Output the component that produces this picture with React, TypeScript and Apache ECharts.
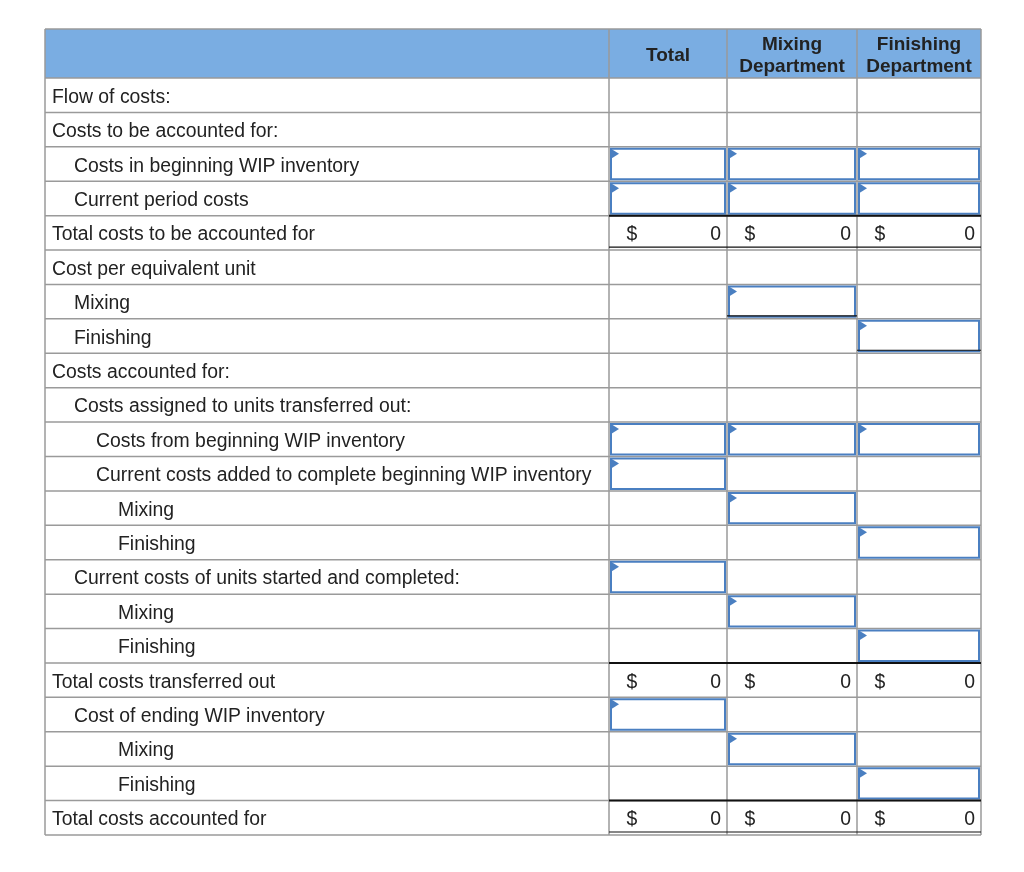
import React, { useEffect, useRef } from "react";
import * as echarts from "echarts";

const headers = ["", "Total", "Mixing\nDepartment", "Finishing\nDepartment"];
const rowLabels = [
  "Flow of costs:",
  "Costs to be accounted for:",
  "Costs in beginning WIP inventory",
  "Current period costs",
  "Total costs to be accounted for",
  "Cost per equivalent unit",
  "Mixing",
  "Finishing",
  "Costs accounted for:",
  "Costs assigned to units transferred out:",
  "Costs from beginning WIP inventory",
  "Current costs added to complete beginning WIP inventory",
  "Mixing",
  "Finishing",
  "Current costs of units started and completed:",
  "Mixing",
  "Finishing",
  "Total costs transferred out",
  "Cost of ending WIP inventory",
  "Mixing",
  "Finishing",
  "Total costs accounted for",
];
const rowIndent = [0, 0, 1, 1, 0, 0, 1, 1, 0, 1, 2, 2, 3, 3, 1, 3, 3, 0, 1, 3, 3, 0];
// input cells per row: [Total, Mixing, Finishing]
const inputCells = [
  [0, 0, 0], [0, 0, 0], [1, 1, 1], [1, 1, 1], [0, 0, 0], [0, 0, 0], [0, 1, 0], [0, 0, 1],
  [0, 0, 0], [0, 0, 0], [1, 1, 1], [1, 0, 0], [0, 1, 0], [0, 0, 1], [1, 0, 0], [0, 1, 0],
  [0, 0, 1], [0, 0, 0], [1, 0, 0], [0, 1, 0], [0, 0, 1], [0, 0, 0],
];
const totalRows = [4, 17, 21];
const totalValues = [
  [0, 0, 0],
  [0, 0, 0],
  [0, 0, 0],
];
const doubleUnderTotals = [4, 21];
const doubleUnderInputs = [
  [6, 1],
  [7, 2],
];

export default function App() {
  const ref = useRef<HTMLDivElement>(null);
  useEffect(() => {
    if (!ref.current) return;
    const chart = echarts.init(ref.current, undefined, { renderer: "svg" });
    const colX = [45, 609, 727, 857, 981];
    const headTop = 29;
    const headBottom = 78;
    const rowH = (835 - 78) / rowLabels.length;
    const rowY = (i: number) => headBottom + i * rowH;
    const font = "'Liberation Sans', Arial, Helvetica, sans-serif";
    const fs = 19.4;
    const hfs = 19;
    const gridColor = "#9a9a9a";
    const blue = "#4a7fc1";
    const els: any[] = [];

    els.push({ type: "rect", shape: { x: 0, y: 0, width: 1024, height: 872 }, style: { fill: "#fff" }, silent: true });
    els.push({
      type: "rect",
      shape: { x: colX[0], y: headTop, width: colX[4] - colX[0], height: headBottom - headTop },
      style: { fill: "#7aade2" },
    });

    // header text
    for (let c = 1; c < 4; c++) {
      const cx = (colX[c] + colX[c + 1]) / 2;
      els.push({
        type: "text",
        x: cx,
        y: (headTop + headBottom) / 2 + 1,
        style: {
          text: headers[c],
          font: `bold ${hfs}px ${font}`,
          fill: "#222",
          align: "center",
          verticalAlign: "middle",
          lineHeight: 22,
        },
      });
    }

    // row labels
    rowLabels.forEach((lab, i) => {
      els.push({
        type: "text",
        x: 52 + rowIndent[i] * 22,
        y: rowY(i) + rowH / 2 + 0.5,
        style: { text: lab, font: `${fs}px ${font}`, fill: "#222", align: "left", verticalAlign: "middle" },
      });
    });

    // grid lines horizontal
    els.push({
      type: "line",
      shape: { x1: colX[0], y1: headTop, x2: colX[4], y2: headTop },
      style: { stroke: gridColor, lineWidth: 1.5 },
    });
    for (let i = 0; i <= rowLabels.length; i++) {
      const y = rowY(i);
      els.push({
        type: "line",
        shape: { x1: colX[0], y1: y, x2: colX[4], y2: y },
        style: { stroke: gridColor, lineWidth: 1.5 },
      });
    }
    // vertical
    colX.forEach((x) => {
      els.push({
        type: "line",
        shape: { x1: x, y1: headTop, x2: x, y2: rowY(rowLabels.length) },
        style: { stroke: gridColor, lineWidth: 1.5 },
      });
    });

    // input boxes
    inputCells.forEach((cells, i) => {
      cells.forEach((v, c) => {
        if (!v) return;
        const x0 = colX[c + 1] + 2;
        const x1 = colX[c + 2] - 2;
        const y0 = rowY(i) + 2;
        const y1 = rowY(i + 1) - 2;
        els.push({
          type: "rect",
          shape: { x: x0, y: y0, width: x1 - x0, height: y1 - y0 },
          style: { fill: "#fff", stroke: blue, lineWidth: 2 },
        });
        els.push({
          type: "polygon",
          shape: { points: [[x0, y0], [x0 + 8, y0 + 5], [x0, y0 + 10]] },
          style: { fill: blue },
        });
      });
    });

    // totals
    totalRows.forEach((r, k) => {
      const yTop = rowY(r);
      els.push({
        type: "line",
        shape: { x1: colX[1], y1: yTop, x2: colX[4], y2: yTop },
        style: { stroke: "#111", lineWidth: 2 },
      });
      for (let c = 0; c < 3; c++) {
        const cy = yTop + rowH / 2 + 0.5;
        els.push({
          type: "text",
          x: colX[c + 1] + 23,
          y: cy,
          style: { text: "$", font: `${fs}px ${font}`, fill: "#222", align: "center", verticalAlign: "middle" },
        });
        els.push({
          type: "text",
          x: colX[c + 2] - 6,
          y: cy,
          style: {
            text: String(totalValues[k][c]),
            font: `${fs}px ${font}`,
            fill: "#222",
            align: "right",
            verticalAlign: "middle",
          },
        });
      }
    });
    doubleUnderTotals.forEach((r) => {
      const y = rowY(r + 1) - 3;
      els.push({
        type: "line",
        shape: { x1: colX[1], y1: y, x2: colX[4], y2: y },
        style: { stroke: "#111", lineWidth: 1.2 },
      });
    });
    doubleUnderInputs.forEach(([r, c]) => {
      const y = rowY(r + 1) - 3;
      els.push({
        type: "line",
        shape: { x1: colX[c + 1], y1: y, x2: colX[c + 2], y2: y },
        style: { stroke: "#111", lineWidth: 1.2 },
      });
    });

    chart.setOption({ animation: false, graphic: { elements: els } });
    return () => chart.dispose();
  }, []);
  return <div ref={ref} style={{ position: "fixed", left: 0, top: 0, width: 1024, height: 872 }} />;
}
